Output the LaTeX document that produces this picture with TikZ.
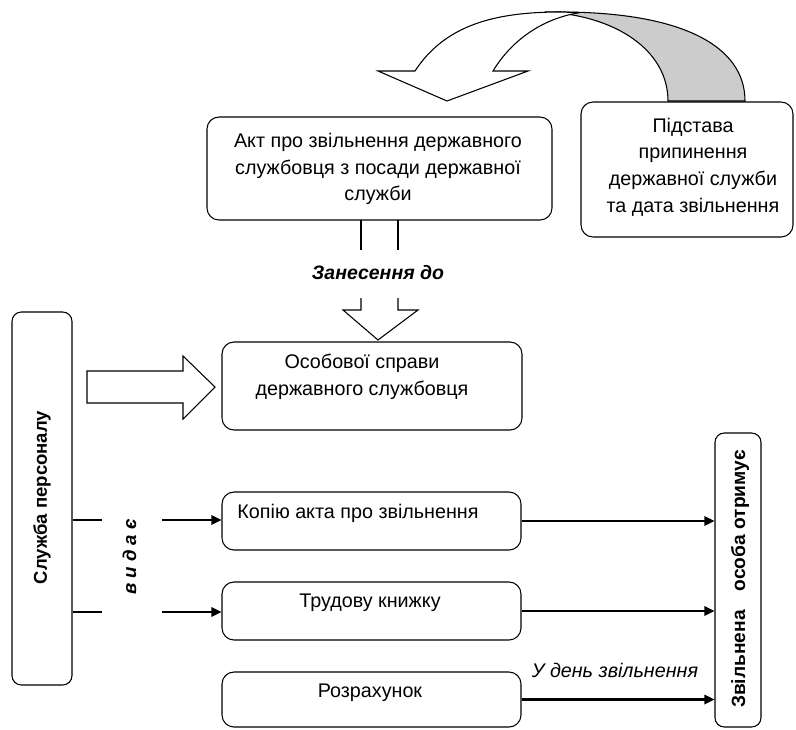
\documentclass[tikz,border=0pt]{standalone}
\usepackage{fontspec}
\setmainfont{Liberation Sans}
\usetikzlibrary{arrows.meta}
\begin{document}
\begin{tikzpicture}[x=0.75pt,y=-0.75pt,
  box/.style={draw, rounded corners=9pt, line width=0.8pt, inner sep=0pt},
  slim/.style={draw, rounded corners=7pt, line width=0.8pt, inner sep=0pt},
  txt/.style={font=\fontsize{14.8}{20}\selectfont, align=center, inner sep=0pt},
  btxt/.style={txt, font=\fontsize{13.9}{20}\selectfont\bfseries},
  conn/.style={line width=1.6pt},
  arr/.style={conn, -{Triangle[length=7.5pt,width=7pt]}},
  outline/.style={line width=0.8pt, line join=miter}
]
\useasboundingbox (0,0) rectangle (796,729);

% --- curved ribbon arrow at the top: back face (grey) first, then front face
\path[outline, draw, fill=black!20]
  (545,12) -- (560,12) .. controls (680,12) and (745,45) .. (745,101)
  -- (668,101) .. controls (668,50) and (615,15) .. (545,12) -- cycle;
\path[outline, draw, fill=white]
  (378,71) -- (415,71) .. controls (445,25) and (495,12) .. (560,12)
  -- (580,12.6) .. controls (545,18) and (513,38) .. (493,71)
  -- (528,71) -- (447,101) -- cycle;

% --- boxes
\node[box, minimum width=258.75pt, minimum height=77.25pt] (akt) at (379.5,168.5) {};
\node[txt] (akttxt) at (378,169)
  {Акт про звільнення державного\\службовця з посади державної\\служби};

\node[box, minimum width=159pt, minimum height=101.25pt] (pid) at (687,169.5) {};
\node[txt] (pidtxt) at (693,167)
  {Підстава\\припинення\\державної служби\\та дата звільнення};

\node[box, minimum width=225pt, minimum height=66pt] (osob) at (372,386) {};
\node[txt] (osobtxt) at (362,377) {Особової справи\\державного службовця};

\node[box, minimum width=224.25pt, minimum height=43.5pt] (kop) at (371.5,521) {};
\node[txt] (koptxt) at (358,513) {Копію акта про звільнення};

\node[box, minimum width=224.25pt, minimum height=43.5pt] (trud) at (371.5,611) {};
\node[txt] (trudtxt) at (370,603) {Трудову книжку};

\node[box, minimum width=224.25pt, minimum height=41.25pt] (rozr) at (371.5,699.5) {};
\node[txt] (rozrtxt) at (370,693) {Розрахунок};

\node[slim, minimum width=45pt, minimum height=279.75pt] (sp) at (42,498.5) {};
\node[btxt, rotate=90] (sptxt) at (42,497.5) {Служба персоналу};

\node[slim, minimum width=34.5pt, minimum height=220.5pt] (zv) at (738,580) {};
\node[btxt, rotate=90, font=\fontsize{14.4}{20}\selectfont\bfseries] (zvtxt) at (740,579)
  {Звільнена\hspace{0.7em} особа отримує};

% --- hollow arrow from the act to the personal file, split by its caption
\node[btxt, font=\fontsize{14.6}{20}\selectfont\bfseries\itshape] (zan) at (378,273) {Занесення до};
\draw[outline] (361,220) -- (361,250) (398,220) -- (398,250);
\draw[outline] (361,298) -- (361,310) -- (343,310) -- (378,340)
  -- (418,310) -- (398,310) -- (398,298);

% --- hollow block arrow from the personnel service
\draw[outline] (87,371) -- (183,371) -- (183,356) -- (215,387)
  -- (183,419) -- (183,403) -- (87,403) -- cycle;

% --- "issues" connectors
\node[btxt, rotate=90, font=\fontsize{14}{20}\selectfont\bfseries\itshape] (vyd) at (129.5,557) {в и д а є};
\coordinate (g1a) at (102,520);
\coordinate (g1b) at (162,520);
\coordinate (g2a) at (102,612);
\coordinate (g2b) at (162,612);
\draw[conn] (sp.east |- g1a) -- (g1a);
\draw[arr] (g1b) -- (kop.west |- g1b);
\draw[conn] (sp.east |- g2a) -- (g2a);
\draw[arr] (g2b) -- (trud.west |- g2b);

% --- what the dismissed person receives
\draw[arr] (kop.east) -- (zv.west |- kop.east);
\draw[arr] (trud.east) -- (zv.west |- trud.east);
\draw[arr] (rozr.east) -- (zv.west |- rozr.east);
\node[txt, font=\fontsize{14.8}{20}\selectfont\itshape] (den) at (615,670) {У день звільнення};
\end{tikzpicture}
\end{document}
